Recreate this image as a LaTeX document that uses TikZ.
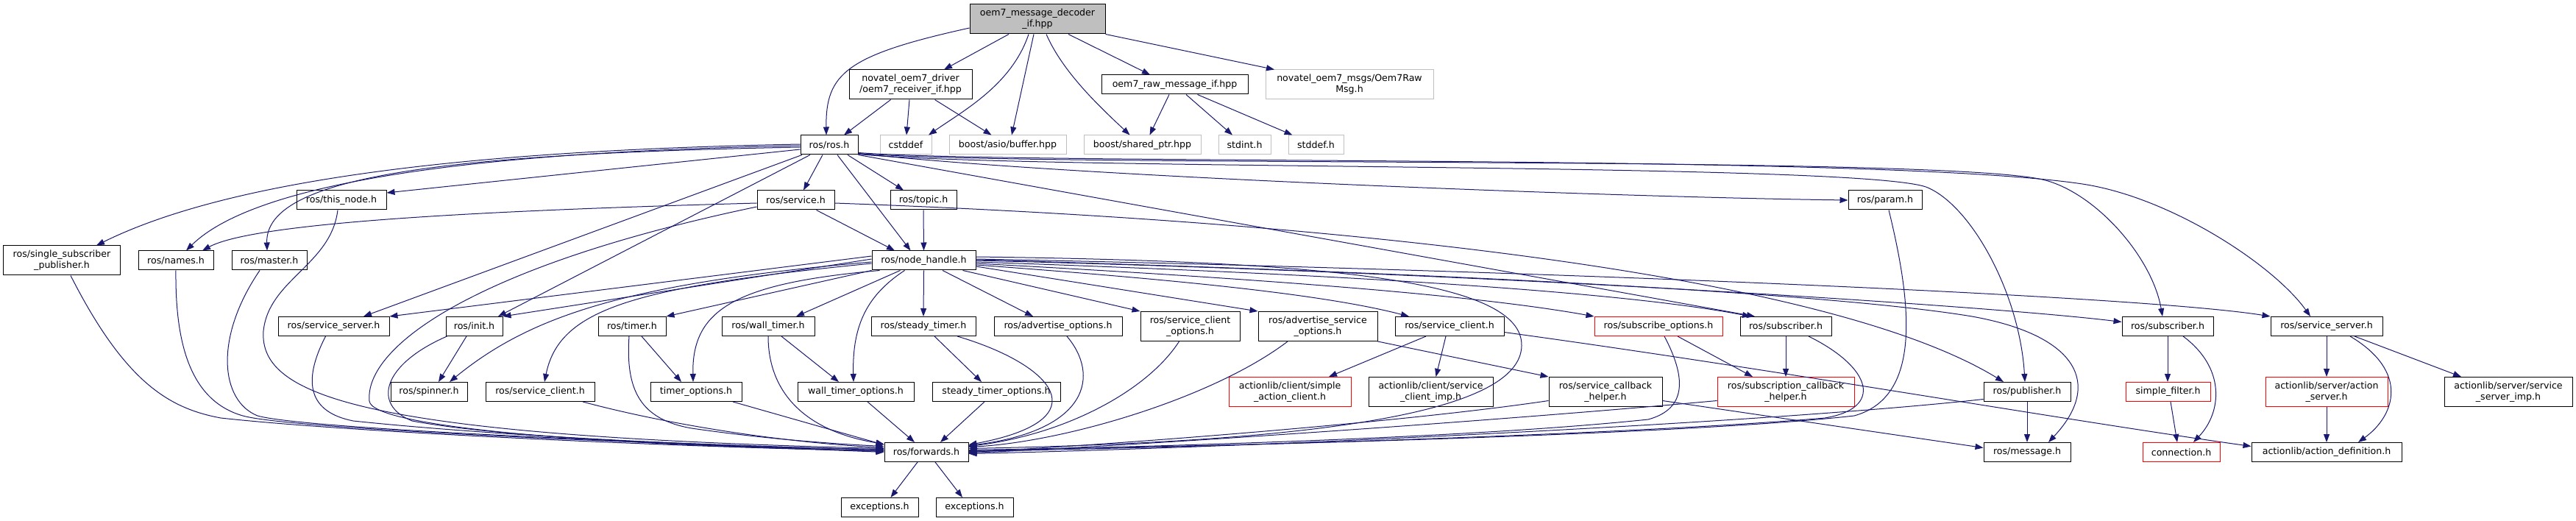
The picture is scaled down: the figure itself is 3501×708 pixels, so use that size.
\documentclass[tikz,border=0pt]{standalone}
\usepackage{fontspec}
\setmainfont{DejaVu Sans}
\usetikzlibrary{arrows.meta}
\definecolor{edgeblue}{HTML}{191970}
\definecolor{grey75}{HTML}{BFBFBF}
\tikzset{
 nodebase/.style={draw, line width=1pt, fill=white, inner sep=0pt, align=center, font=\fontsize{12.6}{15}\selectfont, text=black},
 nbox/.style={nodebase, draw=black},
 gbox/.style={nodebase, draw=grey75},
 rbox/.style={nodebase, draw=red},
 rootbox/.style={nodebase, draw=black, fill=grey75},
 sz/.style 2 args={minimum width=#1pt, minimum height=#2pt},
 dep/.style={draw=edgeblue, line width=1pt, -{Triangle[length=11pt,width=8pt]}}
}
\begin{document}
\begin{tikzpicture}[x=1pt,y=-1pt]
\fill[white] (0,0) rectangle (3501,708);
\useasboundingbox (0,0) rectangle (3501,708);
% nodes
\node[rootbox, sz={184}{40}] (root) at (1410,26) {oem7\_message\_decoder\\\_if.hpp};
\node[nbox, sz={167}{40}] (recv) at (1237.5,115) {novatel\_oem7\_driver\\/oem7\_receiver\_if.hpp};
\node[nbox, sz={199}{26}] (raw) at (1596.5,115) {oem7\_raw\_message\_if.hpp};
\node[gbox, sz={228}{40}] (msgs) at (1834,115) {novatel\_oem7\_msgs/Oem7Raw\\Msg.h};
\node[nbox, sz={78}{26}] (ros) at (1127,197) {ros/ros.h};
\node[gbox, sz={70}{26}] (cstddef) at (1231,197) {cstddef};
\node[gbox, sz={159}{26}] (buffer) at (1369.5,197) {boost/asio/buffer.hpp};
\node[gbox, sz={159}{26}] (sharedptr) at (1552.5,197) {boost/shared\_ptr.hpp};
\node[gbox, sz={71}{26}] (stdint) at (1691.5,197) {stdint.h};
\node[gbox, sz={75}{26}] (stddef) at (1788.5,197) {stddef.h};
\node[nbox, sz={122}{26}] (thisnode) at (464,272) {ros/this\_node.h};
\node[nbox, sz={105}{26}] (service) at (1081.5,272) {ros/service.h};
\node[nbox, sz={90}{26}] (topic) at (1255,272) {ros/topic.h};
\node[nbox, sz={100}{26}] (param) at (2562,272) {ros/param.h};
\node[nbox, sz={159}{40}] (sspub) at (84,354) {ros/single\_subscriber\\\_publisher.h};
\node[nbox, sz={102}{26}] (names) at (239,354) {ros/names.h};
\node[nbox, sz={102}{26}] (master) at (366,354) {ros/master.h};
\node[nbox, sz={141}{26}] (nh) at (1255.5,354) {ros/node\_handle.h};
\node[nbox, sz={151}{26}] (ssL) at (453.5,443.5) {ros/service\_server.h};
\node[nbox, sz={77}{26}] (init) at (644.5,443.5) {ros/init.h};
\node[nbox, sz={92}{26}] (timer) at (859,443.5) {ros/timer.h};
\node[nbox, sz={126}{26}] (wtimer) at (1044,443.5) {ros/wall\_timer.h};
\node[nbox, sz={142}{26}] (sttimer) at (1255,443.5) {ros/steady\_timer.h};
\node[nbox, sz={174}{26}] (advopt) at (1438,443.5) {ros/advertise\_options.h};
\node[nbox, sz={135}{40}] (scopt) at (1617.5,443.5) {ros/service\_client\\\_options.h};
\node[nbox, sz={162}{40}] (asopt) at (1791,443.5) {ros/advertise\_service\\\_options.h};
\node[nbox, sz={148}{26}] (scR) at (1970,443.5) {ros/service\_client.h};
\node[rbox, sz={174}{26}] (subopt) at (2254,443.5) {ros/subscribe\_options.h};
\node[nbox, sz={124}{26}] (subM) at (2427,443.5) {ros/subscriber.h};
\node[nbox, sz={124}{26}] (subR) at (2946,443.5) {ros/subscriber.h};
\node[nbox, sz={152}{26}] (ssR) at (3162,443.5) {ros/service\_server.h};
\node[nbox, sz={104}{26}] (spinner) at (583,532.5) {ros/spinner.h};
\node[nbox, sz={148}{26}] (scL) at (734,532.5) {ros/service\_client.h};
\node[nbox, sz={124}{26}] (topt) at (946,532.5) {timer\_options.h};
\node[nbox, sz={158}{26}] (wtopt) at (1163,532.5) {wall\_timer\_options.h};
\node[nbox, sz={174}{26}] (stopt) at (1354,532.5) {steady\_timer\_options.h};
\node[rbox, sz={166}{40}] (sac) at (1753,532.5) {actionlib/client/simple\\\_action\_client.h};
\node[nbox, sz={169}{40}] (sci) at (1944.5,532.5) {actionlib/client/service\\\_client\_imp.h};
\node[nbox, sz={154}{40}] (scbh) at (2182,532.5) {ros/service\_callback\\\_helper.h};
\node[rbox, sz={186}{40}] (subcb) at (2427,532.5) {ros/subscription\_callback\\\_helper.h};
\node[nbox, sz={118}{26}] (pub) at (2755,532.5) {ros/publisher.h};
\node[rbox, sz={115}{26}] (sfilt) at (2946.5,532.5) {simple\_filter.h};
\node[rbox, sz={166}{40}] (asrv) at (3162,532.5) {actionlib/server/action\\\_server.h};
\node[nbox, sz={174}{40}] (ssimp) at (3409,532.5) {actionlib/server/service\\\_server\_imp.h};
\node[nbox, sz={114}{26}] (fwd) at (1259,614.5) {ros/forwards.h};
\node[nbox, sz={118}{26}] (msg) at (2755,614.5) {ros/message.h};
\node[rbox, sz={105}{26}] (conn) at (2964.5,614.5) {connection.h};
\node[nbox, sz={204}{26}] (adef) at (3162,614.5) {actionlib/action\_definition.h};
\node[nbox, sz={105}{26}] (exc1) at (1195.5,689.5) {exceptions.h};
\node[nbox, sz={105}{26}] (exc2) at (1324.5,689.5) {exceptions.h};
% top edges
\draw[dep] ([yshift=-12pt]root.west) .. controls (1150,75) and (1122,100) .. ([xshift=-4pt]ros.north);
\draw[dep] ([xshift=-39pt]root.south) -- ([xshift=45.5pt]recv.north);
\draw[dep] ([xshift=-12pt]root.south) .. controls (1375,115) and (1310,150) .. ([xshift=31pt]cstddef.north);
\draw[dep] ([xshift=-5pt]root.south) -- ([xshift=5.5pt]buffer.north);
\draw[dep] ([xshift=12pt]root.south) .. controls (1445,100) and (1500,150) .. ([xshift=-17pt]sharedptr.north);
\draw[dep] ([xshift=42pt]root.south) -- ([xshift=-33.5pt]raw.north);
\draw[dep] (root.south east) -- ([xshift=-102pt]msgs.north);
\draw[dep] ([xshift=-27pt]recv.south) -- ([xshift=20pt]ros.north);
\draw[dep] ([xshift=-1.5pt]recv.south) -- ([xshift=1pt]cstddef.north);
\draw[dep] ([xshift=33pt]recv.south) -- ([xshift=-22pt]buffer.north);
\draw[dep] ([xshift=-7.5pt]raw.south) -- ([xshift=10pt]sharedptr.north);
\draw[dep] ([xshift=15.5pt]raw.south) -- ([xshift=-16.5pt]stdint.north);
\draw[dep] ([xshift=31pt]raw.south) -- ([xshift=-32pt]stddef.north);
% ros.h edges
\draw[dep] ([yshift=1pt]ros.west) .. controls (600,205) and (300,250) .. ([xshift=47pt]sspub.north);
\draw[dep] ([yshift=-1pt]ros.west) .. controls (600,207) and (340,255) .. ([xshift=14pt]names.north);
\draw[dep] ([yshift=-3pt]ros.west) .. controls (600,209) and (360,240) .. ([xshift=-3pt]master.north);
\draw[dep] ([yshift=-6pt]ros.west) -- ([yshift=10pt]thisnode.east);
\draw[dep] ([xshift=-9pt]ros.south) -- ([xshift=10.5pt]service.north);
\draw[dep] ([xshift=25pt]ros.south) -- ([xshift=-27pt]topic.north);
\draw[dep] ([xshift=11pt]ros.south) -- ([xshift=-18pt]nh.north);
\draw[dep] ([xshift=-37pt]ros.south) -- ([xshift=40.5pt]ssL.north);
\draw[dep] ([xshift=-26pt]ros.south) -- ([xshift=32.5pt]init.north);
\draw[dep] ([yshift=2pt]ros.south east) .. controls (1450,240) and (2200,268) .. (param.west);
\draw[dep] (ros.south east) -- ([xshift=-42pt]subM.north);
\draw[dep] ([yshift=1pt]ros.south east) .. controls (1400,232) and (2540,220) .. (2620,255) .. controls (2680,281) and (2745,400) .. ([xshift=-3pt]pub.north);
\draw[dep] ([yshift=2pt]ros.south east) .. controls (1400,228) and (2650,210) .. (2780,245) .. controls (2850,264) and (2925,350) .. ([xshift=-7pt]subR.north);
\draw[dep] ([yshift=3pt]ros.south east) .. controls (1400,225) and (2550,208) .. (2830,250) .. controls (2950,268) and (3090,360) .. ([xshift=-22pt]ssR.north);
% service.h, topic.h
\draw[dep] ([xshift=28pt]service.south) -- ([xshift=-39.5pt]nh.north);
\draw[dep] ([yshift=-4pt]service.west) .. controls (700,285) and (350,300) .. ([xshift=36pt]names.north);
\draw[dep] ([yshift=-9pt]service.west) .. controls (650,360) and (495,470) .. (502,545) .. controls (505,580) and (800,605) .. ([yshift=2pt]fwd.west);
\draw[dep] ([yshift=-4pt]service.east) .. controls (1800,300) and (2480,370) .. ([xshift=-32pt]pub.north);
\draw[dep] (topic.south) -- (nh.north);
% into forwards from the left
\draw[dep] ([xshift=-5pt]thisnode.south) .. controls (450,360) and (365,380) .. (358,450) .. controls (352,540) and (500,592) .. ([yshift=5pt]fwd.west);
\draw[dep] (names.south) .. controls (238,470) and (260,545) .. (330,565) .. controls (400,585) and (1000,608) .. ([yshift=4pt]fwd.west);
\draw[dep] ([xshift=-13pt]master.south) .. controls (290,460) and (300,545) .. (350,565) .. controls (420,585) and (1000,606) .. ([yshift=3pt]fwd.west);
\draw[dep] ([xshift=12pt]sspub.south) .. controls (170,520) and (230,555) .. (300,568) .. controls (500,590) and (1000,610) .. ([yshift=2pt]fwd.west);
\draw[dep] ([xshift=-11pt]ssL.south) .. controls (410,520) and (420,560) .. (480,572) .. controls (700,595) and (1000,606) .. ([yshift=1pt]fwd.west);
\draw[dep] ([xshift=-37pt]init.south) .. controls (520,495) and (505,550) .. (560,572) .. controls (700,598) and (1000,606) .. (fwd.west);
\draw[dep] ([xshift=58pt]scL.south) .. controls (900,575) and (1050,600) .. ([yshift=6pt]fwd.west);
\draw[dep] ([xshift=-4pt]timer.south) .. controls (850,530) and (870,570) .. (940,582) .. controls (1050,598) and (1150,604) .. ([yshift=8pt]fwd.west);
\draw[dep] ([xshift=50pt]topt.south) -- ([yshift=10pt]fwd.west);
\draw[dep] (wtimer.south) .. controls (1044,530) and (1090,585) .. ([yshift=11pt]fwd.west);
\draw[dep] ([xshift=16pt]wtopt.south) -- ([xshift=-16pt]fwd.north);
\draw[dep] ([xshift=-16pt]stopt.south) -- ([xshift=19pt]fwd.north);
% into forwards from the right
\draw[dep] ([xshift=46pt]sttimer.south) .. controls (1430,495) and (1500,570) .. ([yshift=10pt]fwd.east);
\draw[dep] ([xshift=12pt]advopt.south) .. controls (1495,510) and (1480,585) .. ([yshift=9pt]fwd.east);
\draw[dep] ([xshift=-15pt]scopt.south) .. controls (1560,530) and (1450,590) .. ([yshift=8pt]fwd.east);
\draw[dep] ([xshift=-41pt]asopt.south) .. controls (1650,540) and (1450,600) .. ([yshift=7pt]fwd.east);
\draw[dep] ([yshift=5pt]nh.east) .. controls (1800,355) and (2070,380) .. (2068,470) .. controls (2066,560) and (1800,600) .. ([yshift=5pt]fwd.east);
\draw[dep] ([xshift=5pt]param.south) .. controls (2600,420) and (2610,540) .. (2520,565) .. controls (2300,590) and (1700,606) .. ([yshift=3pt]fwd.east);
\draw[dep] ([xshift=8pt]subopt.south) .. controls (2290,510) and (2295,555) .. (2240,570) .. controls (2000,595) and (1600,606) .. ([yshift=2pt]fwd.east);
\draw[dep] ([xshift=31pt]subM.south) .. controls (2545,500) and (2560,555) .. (2480,568) .. controls (2200,592) and (1600,608) .. ([yshift=1pt]fwd.east);
\draw[dep] ([yshift=-12pt]scbh.west) .. controls (1900,575) and (1500,605) .. (fwd.east);
\draw[dep] ([yshift=-12pt]subcb.west) .. controls (2000,575) and (1500,608) .. ([yshift=-1pt]fwd.east);
\draw[dep] ([yshift=-10pt]pub.west) .. controls (2400,575) and (1700,608) .. ([yshift=-2pt]fwd.east);
% node_handle.h edges
\draw[dep] ([yshift=6pt]nh.west) -- (ssL.north east);
\draw[dep] ([yshift=2pt]nh.west) -- (init.north east);
\draw[dep] ([yshift=-2pt]nh.west) .. controls (850,385) and (720,430) .. ([xshift=28pt]spinner.north);
\draw[dep] ([yshift=-4pt]nh.west) .. controls (860,390) and (760,420) .. ([xshift=6pt]scL.north);
\draw[dep] (nh.south west) -- (timer.north east);
\draw[dep] ([xshift=-60pt]nh.south) .. controls (1000,385) and (940,420) .. ([xshift=-4pt]topt.north);
\draw[dep] ([xshift=-32pt]nh.south) -- ([xshift=38pt]wtimer.north);
\draw[dep] ([xshift=-26pt]nh.south) .. controls (1180,400) and (1158,440) .. ([xshift=-3pt]wtopt.north);
\draw[dep] (nh.south) -- (sttimer.north);
\draw[dep] ([xshift=25.5pt]nh.south) -- ([xshift=-34pt]advopt.north);
\draw[dep] ([xshift=53pt]nh.south) -- (scopt.north west);
\draw[dep] ([yshift=-8pt]nh.east) -- (asopt.north west);
\draw[dep] ([yshift=-6pt]nh.east) .. controls (1600,380) and (1800,400) .. ([xshift=-55pt]scR.north);
\draw[dep] ([yshift=-4pt]nh.east) .. controls (1700,378) and (2000,400) .. (subopt.north west);
\draw[dep] ([yshift=-2pt]nh.east) .. controls (1800,372) and (2200,395) .. ([xshift=-48pt]subM.north);
\draw[dep] (nh.east) .. controls (2000,370) and (2700,415) .. ([yshift=6pt]subR.west);
\draw[dep] ([yshift=2pt]nh.east) .. controls (2000,365) and (2900,400) .. (ssR.north west);
\draw[dep] ([yshift=1pt]nh.east) .. controls (2000,372) and (2500,400) .. (2680,430) .. controls (2820,455) and (2860,520) .. ([xshift=29pt]msg.north);
% remaining edges
\draw[dep] ([xshift=-10.5pt]init.south) -- ([xshift=13pt]spinner.north);
\draw[dep] ([xshift=13pt]timer.south) -- ([xshift=-20pt]topt.north);
\draw[dep] ([xshift=18pt]wtimer.south) -- ([xshift=-23pt]wtopt.north);
\draw[dep] ([xshift=15pt]sttimer.south) -- ([xshift=-20pt]stopt.north);
\draw[dep] (asopt.south east) -- (scbh.north west);
\draw[dep] ([xshift=-32pt]scR.south) -- ([xshift=53pt]sac.north);
\draw[dep] ([xshift=-5pt]scR.south) -- ([xshift=7pt]sci.north);
\draw[dep] ([yshift=-8pt]scR.east) .. controls (2400,500) and (2800,570) .. ([yshift=8pt]adef.west);
\draw[dep] ([xshift=26pt]subopt.south) -- ([xshift=-45pt]subcb.north);
\draw[dep] (subM.south) -- (subcb.north);
\draw[dep] ([yshift=-12pt]scbh.east) -- ([yshift=6pt]msg.west);
\draw[dep] (pub.south) -- (msg.north);
\draw[dep] (subR.south) -- ([xshift=-0.5pt]sfilt.north);
\draw[dep] ([xshift=21pt]subR.south) .. controls (3025,500) and (3020,560) .. ([xshift=16.5pt]conn.north);
\draw[dep] ([xshift=3.5pt]sfilt.south) -- ([xshift=-5.5pt]conn.north);
\draw[dep] (ssR.south) -- (asrv.north);
\draw[dep] ([xshift=32pt]ssR.south) .. controls (3275,505) and (3255,565) .. ([xshift=43pt]adef.north);
\draw[dep] ([xshift=38pt]ssR.south) -- ([xshift=-64pt]ssimp.north);
\draw[dep] (asrv.south) -- (adef.north);
\draw[dep] ([xshift=-12pt]fwd.south) -- ([xshift=15pt]exc1.north);
\draw[dep] ([xshift=12pt]fwd.south) -- ([xshift=-16.5pt]exc2.north);
\end{tikzpicture}
\end{document}
